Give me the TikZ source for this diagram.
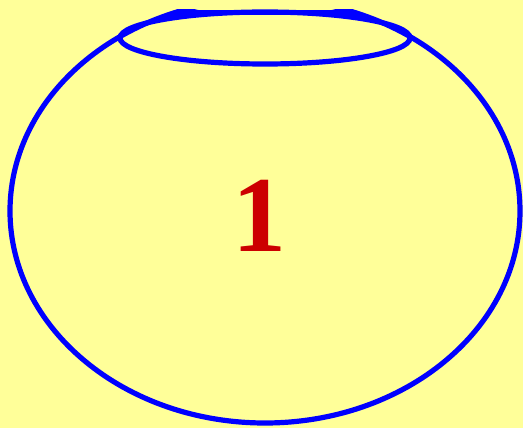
\documentclass[tikz,border=0pt]{standalone}
\usepackage{fontspec}
\setmainfont{Liberation Serif}
\definecolor{bgyellow}{RGB}{255,255,153}
\definecolor{numred}{RGB}{204,0,0}
\tikzset{bowl/.style={draw=blue,line width=5.2pt}}
\begin{document}
\begin{tikzpicture}[x=1pt,y=-1pt]
\fill[bgyellow] (0,0) rectangle (523,428);
\useasboundingbox (0,0) rectangle (523,428);
\begin{scope}
\clip (0,10) rectangle (523,428);
\draw[bowl] (265,211) ellipse [x radius=255, y radius=212];
\end{scope}
\begin{scope}
\clip (265,211) ellipse [x radius=257, y radius=214];
\draw[bowl] (100,12.5) -- (430,12.5);
\end{scope}
\draw[bowl] (265,38) ellipse [x radius=145, y radius=26];
\node[text=numred,font=\fontsize{108}{108}\selectfont\bfseries,inner sep=0pt] (num) at (259,216) {1};
\end{tikzpicture}
\end{document}
